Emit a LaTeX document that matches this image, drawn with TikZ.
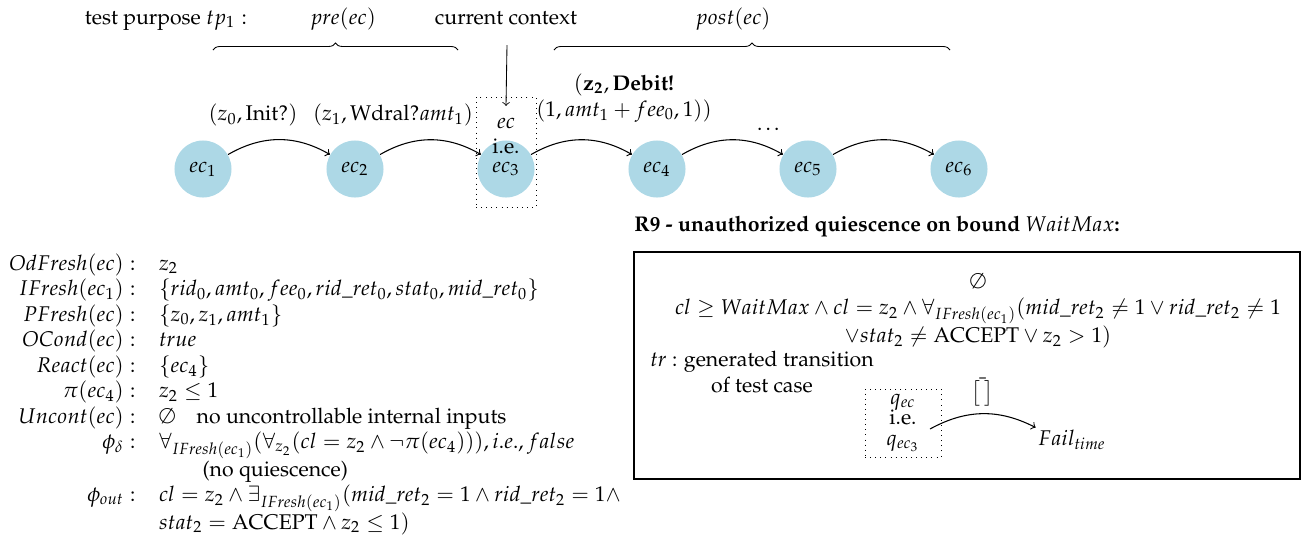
\documentclass[tikz,border=0pt]{standalone}
\usepackage[T1]{fontenc}
\usepackage{amsmath}
\usepackage{mathpazo}
\usetikzlibrary{decorations.pathreplacing}
\definecolor{ecblue}{RGB}{173,216,230}
\begin{document}
\begin{tikzpicture}[x=0.47pt, y=-0.47pt,
  ecnode/.style={circle, fill=ecblue, minimum size=26.8pt, inner sep=0pt},
  lbl/.style={inner sep=1pt},
  trans/.style={->, line width=0.5pt, bend left=30},
  ctxbox/.style={draw, dotted, inner sep=0pt},
  brc/.style={decorate, decoration={brace, amplitude=3.3pt}}]
\useasboundingbox (0,0) rectangle (1302,538);

% top labels and braces
\node[anchor=base] (tp) at (166,24) {test purpose $tp_1 :$};
\node[anchor=base] (pre) at (343,24) {$pre(ec)$};
\node[anchor=base] (cc) at (506,24) {current context};
\node[anchor=base] (post) at (733,24) {$post(ec)$};
\coordinate (preA) at (213,50);
\coordinate (preB) at (458,50);
\coordinate (postA) at (554,50);
\coordinate (postB) at (950,50);
\draw[brc] (preA) -- (preB);
\draw[brc] (postA) -- (postB);

% context box
\node[ctxbox, minimum width=28.2pt, minimum height=51.7pt] (ctx) at (506,152) {};

% execution contexts
\node[ecnode] (ec1) at (203,169) {$ec_1$};
\node[ecnode] (ec2) at (355,169) {$ec_2$};
\node[ecnode] (ec3) at (506,169) {$ec_3$};
\node[ecnode] (ec4) at (657,169) {$ec_4$};
\node[ecnode] (ec5) at (808,169) {$ec_5$};
\node[ecnode] (ec6) at (959,169) {$ec_6$};

\node[inner xsep=1pt, inner ysep=5.4pt, align=center] (ecie) at (506,136) {$ec$\\i.e.};
\coordinate (ccA) at (507,45);
\draw[->] (ccA) -- (ecie.north);

\draw[trans] (ec1) to (ec2);
\draw[trans] (ec2) to (ec3);
\draw[trans] (ec3) to (ec4);
\draw[trans] (ec4) to (ec5);
\draw[trans] (ec5) to (ec6);

\node[lbl] (l12) at (253,115) {$(z_0, \mathrm{Init?})$};
\node[lbl] (l23) at (393,115) {$(z_1, \mathrm{Wdral?}amt_1)$};
\node[lbl, align=center] (l34) at (624,98) {$(\mathbf{z_2}, \textbf{Debit!}$\\$(1, amt_1+fee_0, 1))$};
\node[lbl] (l45) at (770,129) {\dots};

% facts
\node[anchor=base west, inner sep=0pt] (facts) at (9,270) {%
\begin{tabular}[t]{@{}r@{\hspace{11pt}}l@{}}
$OdFresh(ec):$ & $z_2$\\
$IFresh(ec_1):$ & $\{rid_0, amt_0, fee_0, rid\_ret_0, stat_0, mid\_ret_0\}$\\
$PFresh(ec):$ & $\{z_0, z_1, amt_1\}$\\
$OCond(ec):$ & $true$\\
$React(ec):$ & $\{ec_4\}$\\
$\pi(ec_4):$ & $z_2 \le 1$\\
$Uncont(ec):$ & $\emptyset$\quad no uncontrollable internal inputs\\
$\phi_\delta:$ & $\forall_{IFresh(ec_1)}(\forall_{z_2}(cl = z_2 \wedge \neg\pi(ec_4))), i.e., false$\\
 & \hspace{20.5pt}(no quiescence)\\
$\phi_{out}:$ & $cl = z_2 \wedge \exists_{IFresh(ec_1)}(mid\_ret_2 = 1 \wedge rid\_ret_2 = 1 \wedge$\\
 & $stat_2 = \mathrm{ACCEPT} \wedge z_2 \le 1)$
\end{tabular}};

% R9 box
\node[anchor=base west, inner sep=0pt] (r9t) at (634,231) {\textbf{R9 - unauthorized quiescence on bound $WaitMax$:}};
\node[draw, line width=0.5pt, minimum width=313pt, minimum height=106.7pt, inner sep=0pt] (r9) at (967,365.5) {};
\node[align=center, inner sep=0pt] (guard) at (978,311) {$\emptyset$\\$cl \geq WaitMax \wedge cl = z_2 \wedge \forall_{IFresh(ec_1)}(mid\_ret_2 \neq 1 \vee rid\_ret_2 \neq 1$\\$\vee stat_2 \neq \mathrm{ACCEPT} \vee z_2 > 1)$};
\node[align=center, inner sep=0pt] (trn) at (762,372) {$tr$ : generated transition\\of test case};
\node[ctxbox, align=center, minimum width=35.7pt, minimum height=32pt] (q) at (903,423) {$q_{ec}$\\[-2.4pt]i.e.\\[-2.4pt]$q_{ec_3}$};
\coordinate (qout) at (930,429);
\node[inner sep=1pt] (fail) at (1072,440) {$Fail_{time}$};
\draw[->, line width=0.5pt] (qout) to[bend left=28] node[above=2pt, inner sep=1pt] (bar) {$\bar{\big[\,\big]}$} (fail.north west);
\end{tikzpicture}
\end{document}
